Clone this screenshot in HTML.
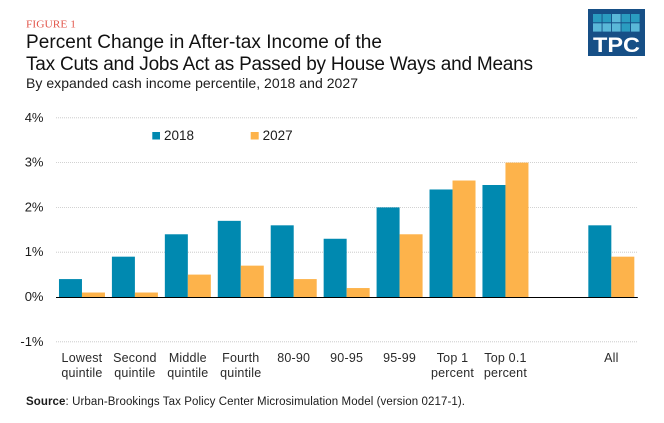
<!DOCTYPE html>
<html>
<head>
<meta charset="utf-8">
<style>
html,body{margin:0;padding:0;background:#fff;}
svg{display:block;}
text{font-family:"Liberation Sans",sans-serif;fill:#1c1c1c;}
</style>
</head>
<body>
<svg id="chart" xmlns="http://www.w3.org/2000/svg" width="664" height="423" viewBox="0 0 664 423">
  <rect x="0" y="0" width="664" height="423" fill="#ffffff"/>
  <text x="26" y="27.700" textLength="50" lengthAdjust="spacingAndGlyphs" style="font-family:'Liberation Serif',serif;font-size:10.5px;fill:#e2574c;">FIGURE 1</text>
  <text x="26" y="48" textLength="356" lengthAdjust="spacing" style="font-size:19px;fill:#111;">Percent Change in After-tax Income of the</text>
  <text x="26" y="70" textLength="507" lengthAdjust="spacing" style="font-size:19px;fill:#111;">Tax Cuts and Jobs Act as Passed by House Ways and Means</text>
  <text x="26" y="88" textLength="332" lengthAdjust="spacing" style="font-size:14px;">By expanded cash income percentile, 2018 and 2027</text>

  <g>
    <rect x="588" y="9" width="57" height="47" fill="#164f86"/>
    <g id="logo-cells"></g>
    <text x="616.500" y="52" text-anchor="middle" textLength="47" lengthAdjust="spacingAndGlyphs" style="font-size:21px;font-weight:bold;fill:#fff;">TPC</text>
  </g>

  <g id="grid"></g>
  <g id="bars"></g>
  <g id="ylabels"></g>
  <g id="xlabels"></g>

  <g>
    <g>
      <rect x="152.300" y="132" width="7.700" height="7.500" fill="#0089b0"/>
      <text x="164" y="140" style="font-size:13.5px;">2018</text>
    </g>
    <g>
      <rect x="250.700" y="132" width="8" height="7.500" fill="#fdb34b"/>
      <text x="262.600" y="140" style="font-size:13.5px;">2027</text>
    </g>
  </g>

  <text x="26" y="405" textLength="439" lengthAdjust="spacing" style="font-size:11.5px;"><tspan style="font-weight:bold;">Source</tspan>: Urban-Brookings Tax Policy Center Microsimulation Model (version 0217-1).</text>
</svg>
<script>
var categories = [
  ["Lowest", "quintile"],
  ["Second", "quintile"],
  ["Middle", "quintile"],
  ["Fourth", "quintile"],
  ["80-90"],
  ["90-95"],
  ["95-99"],
  ["Top 1", "percent"],
  ["Top 0.1", "percent"],
  [],
  ["All"]
];
var values2018 = [0.4, 0.9, 1.4, 1.7, 1.6, 1.3, 2.0, 2.4, 2.5, null, 1.6];
var values2027 = [0.1, 0.1, 0.5, 0.7, 0.4, 0.2, 1.4, 2.6, 3.0, null, 0.9];
var yTicks = [-1, 0, 1, 2, 3, 4];

var NS = "http://www.w3.org/2000/svg";
var plotLeft = 55.5, plotRight = 637.8, plotZeroY = 297, unitH = 44.8, barW = 23;

function yScale(v) { return plotZeroY - v * unitH; }
function xCenter(i) { return plotLeft + (plotRight - plotLeft) / categories.length * (i + 0.5); }
function make(tag, attrs, parent) {
  var el = document.createElementNS(NS, tag);
  for (var k in attrs) { el.setAttribute(k, attrs[k]); }
  parent.appendChild(el);
  return el;
}

var gridG = document.getElementById("grid");
var yG = document.getElementById("ylabels");
yTicks.forEach(function (t) {
  var y = yScale(t);
  var lineY = t === 0 ? y + 0.5 : y;
  var line = make("line", { x1: plotLeft + 0.5, x2: plotRight, y1: lineY, y2: lineY }, gridG);
  
  
  if (t === 0) {
    line.setAttribute("stroke", "#000000");
    line.setAttribute("stroke-width", "1");
  } else {
    line.setAttribute("stroke", "#c4c4c4");
    line.setAttribute("stroke-width", "0.8");
    line.setAttribute("stroke-dasharray", "1 1");
  }
  var label = make("text", { x: 43.5, y: y + 4, "text-anchor": "end", style: "font-size:13px;" }, yG);
  
  
  label.textContent = t + "%";
});

var barsG = document.getElementById("bars");
function drawBar(v, x, color) {
  if (v === null) { return; }
  var top = yScale(v);
  var r = make("rect", { x: x, y: top, width: barW, height: plotZeroY - top, fill: color }, barsG);
  
  
}
categories.forEach(function (c, i) {
  var cx = xCenter(i);
  drawBar(values2018[i], cx - barW, "#0089b0");
  drawBar(values2027[i], cx, "#fdb34b");
});

var xG = document.getElementById("xlabels");
categories.forEach(function (lines, i) {
  lines.forEach(function (s, j) {
    var t = make("text", { x: xCenter(i), y: 362 + j * 15, "text-anchor": "middle", style: "font-size:12.5px;letter-spacing:0.2px;fill:#2a2a2a;" }, xG);
    
    
    t.textContent = s;
  });
});

var logoG = document.getElementById("logo-cells");
var logoCols = [0, 1, 2, 3, 4];
var logoRows = [0, 1];
logoRows.forEach(function (r) {
  logoCols.forEach(function (c) {
    var light = (r === 1 && c !== 3) || (r === 0 && c === 2);
    var cell = make("rect", { x: 593 + c * 9.5, y: 14 + r * 9.3, width: 8.6, height: 8.3, fill: light ? "#5ab8d8" : "#2a9cc0" }, logoG);
    
    
  });
});
</script>
</body>
</html>
